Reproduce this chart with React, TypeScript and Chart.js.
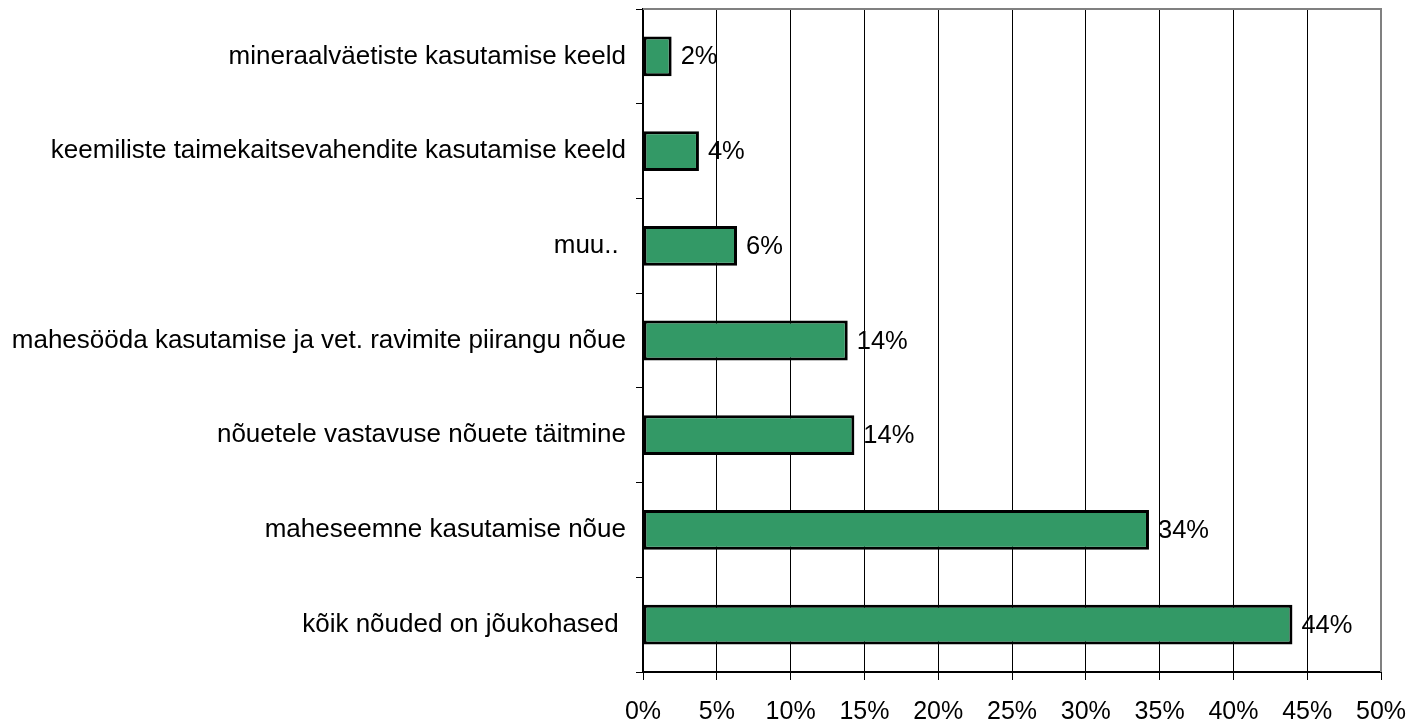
import React, { useEffect, useRef } from "react";
import { Chart, registerables } from "chart.js";

Chart.register(...registerables);

const categories = [
  "mineraalväetiste kasutamise keeld",
  "keemiliste taimekaitsevahendite kasutamise keeld",
  "muu.. ",
  "mahesööda kasutamise ja vet. ravimite piirangu nõue",
  "nõuetele vastavuse nõuete täitmine",
  "maheseemne kasutamise nõue",
  "kõik nõuded on jõukohased ",
];
const values = [1.94, 3.79, 6.37, 13.87, 14.32, 34.28, 44.0];
const valueLabels = ["2%", "4%", "6%", "14%", "14%", "34%", "44%"];
const xTicks = [0, 5, 10, 15, 20, 25, 30, 35, 40, 45, 50];

const FONT = "'Liberation Sans', Arial, sans-serif";

const labelPlugin = {
  id: "valueLabels",
  afterDatasetsDraw(chart: any) {
    const ctx = chart.ctx;
    const meta = chart.getDatasetMeta(0);
    ctx.save();
    ctx.font = `25.5px ${FONT}`;
    ctx.fillStyle = "#000";
    ctx.textAlign = "left";
    ctx.textBaseline = "middle";
    meta.data.forEach((bar: any, i: number) => {
      ctx.fillText(valueLabels[i], bar.x + 9, bar.y + 1);
    });
    ctx.restore();
  },
};

const borderPlugin = {
  id: "plotBorder",
  afterDraw(chart: any) {
    const { ctx, chartArea } = chart;
    ctx.save();
    ctx.strokeStyle = "#808080";
    ctx.lineWidth = 2;
    ctx.beginPath();
    ctx.moveTo(chartArea.left, chartArea.top);
    ctx.lineTo(chartArea.right, chartArea.top);
    ctx.lineTo(chartArea.right, chartArea.bottom);
    ctx.stroke();
    ctx.restore();
  },
};

export default function App() {
  const ref = useRef<HTMLCanvasElement>(null);
  useEffect(() => {
    document.body.style.margin = "0";
    const chart = new Chart(ref.current!, {
      type: "bar",
      data: {
        labels: categories,
        datasets: [
          {
            data: values,
            backgroundColor: "#339966",
            borderColor: "#000",
            borderWidth: 3,
            borderSkipped: false,
            categoryPercentage: 1,
            barPercentage: 0.42,
          },
        ],
      },
      options: {
        indexAxis: "y",
        animation: false,
        responsive: false,
        maintainAspectRatio: false,
        layout: { padding: { top: 9, right: 44, left: 0, bottom: 0 } },
        plugins: { legend: { display: false }, tooltip: { enabled: false } },
        scales: {
          x: {
            type: "linear",
            min: 0,
            max: 50,
            afterBuildTicks: (scale: any) => {
              scale.ticks = xTicks.map((v) => ({ value: v }));
            },
            afterFit: (scale: any) => {
              scale.height = 53;
              scale.paddingLeft = 0;
              scale.paddingRight = 0;
            },
            ticks: {
              callback: (v: any) => v + "%",
              color: "#000",
              font: { family: FONT, size: 25 },
              padding: 17,
              maxRotation: 0,
            },
            grid: {
              color: (c: any) => (c.tick && c.tick.value === 50 ? "#808080" : "#000"),
              lineWidth: 1,
              tickLength: 8,
              tickColor: "#000",
            },
            border: { color: "#000", width: 2 },
          },
          y: {
            type: "category",
            afterFit: (scale: any) => {
              scale.width = 643;
              scale.paddingTop = 0;
              scale.paddingBottom = 0;
            },
            ticks: {
              color: "#000",
              font: { family: FONT, size: 26 },
              padding: 10,
            },
            grid: {
              offset: true,
              drawOnChartArea: false,
              drawTicks: true,
              tickLength: 7,
              tickColor: "#000",
            },
            border: { color: "#000", width: 2 },
          },
        },
      },
      plugins: [labelPlugin, borderPlugin],
    });
    return () => chart.destroy();
  }, []);
  return (
    <div style={{ position: "absolute", left: 0, top: 0, width: 1425, height: 725, background: "#fff" }}>
      <canvas ref={ref} width={1425} height={725} />
    </div>
  );
}
